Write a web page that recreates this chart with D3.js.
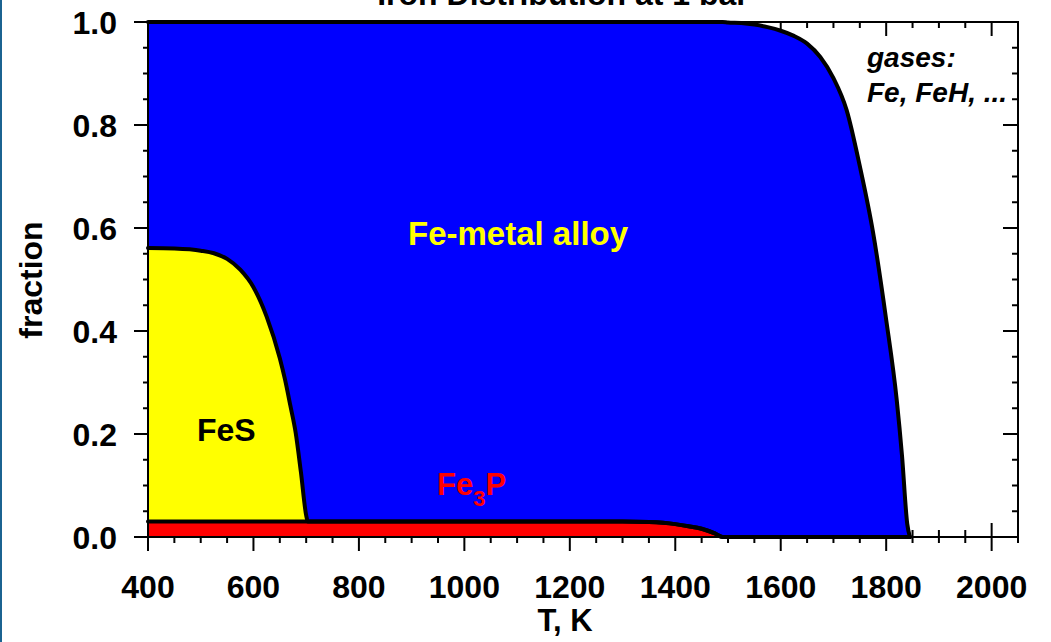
<!DOCTYPE html>
<html>
<head>
<meta charset="utf-8">
<script src="https://cdn.jsdelivr.net/npm/d3@7"></script>
<style>
  html, body { margin: 0; padding: 0; background: #fff; }
  svg { display: block; }
  text { font-family: "Liberation Sans", Arial, sans-serif; font-weight: bold; }
</style>
</head>
<body>
<svg id="chart" width="1051" height="642"></svg>
<script>
// Temperature grid, K
const temperature = [400, 450, 500, 525, 550, 575, 600, 625, 650, 660, 670, 680, 690, 700, 703,
  750, 800, 900, 1000, 1100, 1200, 1300, 1350, 1400, 1425, 1450, 1475, 1490, 1500, 1525,
  1550, 1575, 1600, 1625, 1650, 1675, 1700, 1725, 1750, 1775, 1800, 1820, 1830, 1840, 1845];

// Fraction of iron held in each condensed phase (the remainder is in the gas)
const fe3p = [0.030, 0.030, 0.030, 0.030, 0.030, 0.030, 0.030, 0.030, 0.030, 0.030, 0.030, 0.030, 0.030, 0.030, 0.030,
  0.030, 0.030, 0.030, 0.030, 0.030, 0.030, 0.030, 0.029, 0.025, 0.021, 0.016, 0.007, 0.0, 0.0, 0.0,
  0.0, 0.0, 0.0, 0.0, 0.0, 0.0, 0.0, 0.0, 0.0, 0.0, 0.0, 0.0, 0.0, 0.0, 0.0];
const fes = [0.531, 0.530, 0.526, 0.521, 0.510, 0.489, 0.455, 0.398, 0.317, 0.275, 0.225, 0.173, 0.096, 0.012, 0.0,
  0.0, 0.0, 0.0, 0.0, 0.0, 0.0, 0.0, 0.0, 0.0, 0.0, 0.0, 0.0, 0.0, 0.0, 0.0,
  0.0, 0.0, 0.0, 0.0, 0.0, 0.0, 0.0, 0.0, 0.0, 0.0, 0.0, 0.0, 0.0, 0.0, 0.0];
const metal = [0.439, 0.440, 0.444, 0.449, 0.460, 0.481, 0.515, 0.572, 0.653, 0.695, 0.745, 0.797, 0.874, 0.958, 0.970,
  0.970, 0.970, 0.970, 0.970, 0.970, 0.970, 0.970, 0.971, 0.975, 0.979, 0.984, 0.993, 1.0, 0.999, 0.998,
  0.995, 0.990, 0.983, 0.973, 0.958, 0.932, 0.891, 0.829, 0.720, 0.592, 0.422, 0.266, 0.158, 0.025, 0.0];

const phases = ["fe3p", "fes", "metal"];
const phaseColors = { fe3p: "#ff0000", fes: "#ffff00", metal: "#0000ff" };

const xMajor = [400, 600, 800, 1000, 1200, 1400, 1600, 1800, 2000];
const yMajor = [0.0, 0.2, 0.4, 0.6, 0.8, 1.0];

const W = 1051, H = 642;
const plot = { left: 148, right: 1018, top: 22, bottom: 537 };

const svg = d3.select("#chart");

// thin rule along the left edge of the page
svg.append("line")
  .attr("x1", 1).attr("x2", 1).attr("y1", 0).attr("y2", H)
  .attr("stroke", "#1b6391").attr("stroke-width", 2);

const x = d3.scaleLinear().domain([400, 2050]).range([plot.left, plot.right]);
const y = d3.scaleLinear().domain([0, 1]).range([plot.bottom, plot.top]);

const xMinor = d3.range(400, 2051, 50);
const yMinor = d3.range(0, 1.0001, 0.05).map(v => +v.toFixed(2));

const isXMajor = v => xMajor.includes(v);
const isYMajor = v => yMajor.some(m => Math.abs(m - v) < 1e-6);

// ticks: drawn first so the filled regions hide their inner parts
const ticks = svg.append("g").attr("stroke", "#000").attr("stroke-width", 2);
xMinor.forEach(v => {
  const big = isXMajor(v);
  // bottom: crossing ticks
  ticks.append("line").attr("x1", x(v)).attr("x2", x(v))
    .attr("y1", plot.bottom - (big ? 14 : 7)).attr("y2", plot.bottom + (big ? 14 : 6));
  // top: inward ticks
  ticks.append("line").attr("x1", x(v)).attr("x2", x(v))
    .attr("y1", plot.top).attr("y2", plot.top + (big ? 14 : 6));
});
yMinor.forEach(v => {
  const big = isYMajor(v);
  ticks.append("line").attr("y1", y(v)).attr("y2", y(v))
    .attr("x1", plot.left - (big ? 14 : 5)).attr("x2", plot.left + (big ? 14 : 6));
  ticks.append("line").attr("y1", y(v)).attr("y2", y(v))
    .attr("x1", plot.right - (big ? 15 : 6)).attr("x2", plot.right);
});

// stacked phase regions
const rows = temperature.map((t, i) => ({ T: t, fe3p: fe3p[i], fes: fes[i], metal: metal[i] }));
const stacked = d3.stack().keys(phases)(rows);

const area = d3.area()
  .x(d => x(d.data.T))
  .y0(d => y(d[0]))
  .y1(d => y(d[1]))
  .curve(d3.curveMonotoneX);

svg.append("g").selectAll("path")
  .data(stacked)
  .join("path")
  .attr("d", area)
  .attr("fill", s => phaseColors[s.key]);

// plot frame
svg.append("rect")
  .attr("x", plot.left).attr("y", plot.top)
  .attr("width", plot.right - plot.left).attr("height", plot.bottom - plot.top)
  .attr("fill", "none").attr("stroke", "#000").attr("stroke-width", 2);

// phase boundaries
const boundary = d3.line()
  .x(d => x(d.data.T))
  .y(d => y(d[1]))
  .curve(d3.curveMonotoneX);

svg.append("g").selectAll("path")
  .data(stacked)
  .join("path")
  .attr("d", boundary)
  .attr("fill", "none")
  .attr("stroke", "#000")
  .attr("stroke-width", 4)
  .attr("stroke-linejoin", "round")
  .attr("stroke-linecap", "round");

// tick labels
svg.append("g").selectAll("text")
  .data(xMajor)
  .join("text")
  .attr("x", d => x(d))
  .attr("y", 598)
  .attr("text-anchor", "middle")
  .attr("font-size", 32)
  .text(d => d);

svg.append("g").selectAll("text")
  .data(yMajor)
  .join("text")
  .attr("x", 117)
  .attr("y", d => y(d))
  .attr("dy", "0.36em")
  .attr("text-anchor", "end")
  .attr("font-size", 32)
  .text(d => d.toFixed(1));

// axis titles
svg.append("text")
  .attr("x", 565).attr("y", 631)
  .attr("text-anchor", "middle").attr("font-size", 31)
  .text("T, K");

svg.append("text")
  .attr("transform", "translate(42,280) rotate(-90)")
  .attr("text-anchor", "middle").attr("font-size", 32)
  .text("fraction");

svg.append("text")
  .attr("x", 563).attr("y", 5)
  .attr("text-anchor", "middle").attr("font-size", 32)
  .text("Iron Distribution at 1 bar");

// region labels
svg.append("text")
  .attr("x", 408).attr("y", 245)
  .attr("font-size", 33).attr("fill", "#ffff00")
  .text("Fe-metal alloy");

svg.append("text")
  .attr("x", 197).attr("y", 441)
  .attr("font-size", 32).attr("fill", "#000")
  .text("FeS");

const fe3pLabel = svg.append("text")
  .attr("x", 437).attr("y", 495)
  .attr("font-size", 31).attr("fill", "#ff0000");
fe3pLabel.append("tspan").text("Fe");
fe3pLabel.append("tspan").attr("font-size", 22).attr("dy", 11).text("3");
fe3pLabel.append("tspan").attr("dy", -11).text("P");

const gasLabel = svg.append("text")
  .attr("font-size", 28).attr("font-style", "italic").attr("fill", "#000");
gasLabel.append("tspan").attr("x", 867).attr("y", 67).text("gases:");
gasLabel.append("tspan").attr("x", 867).attr("y", 102).text("Fe, FeH, ...");
</script>
</body>
</html>
